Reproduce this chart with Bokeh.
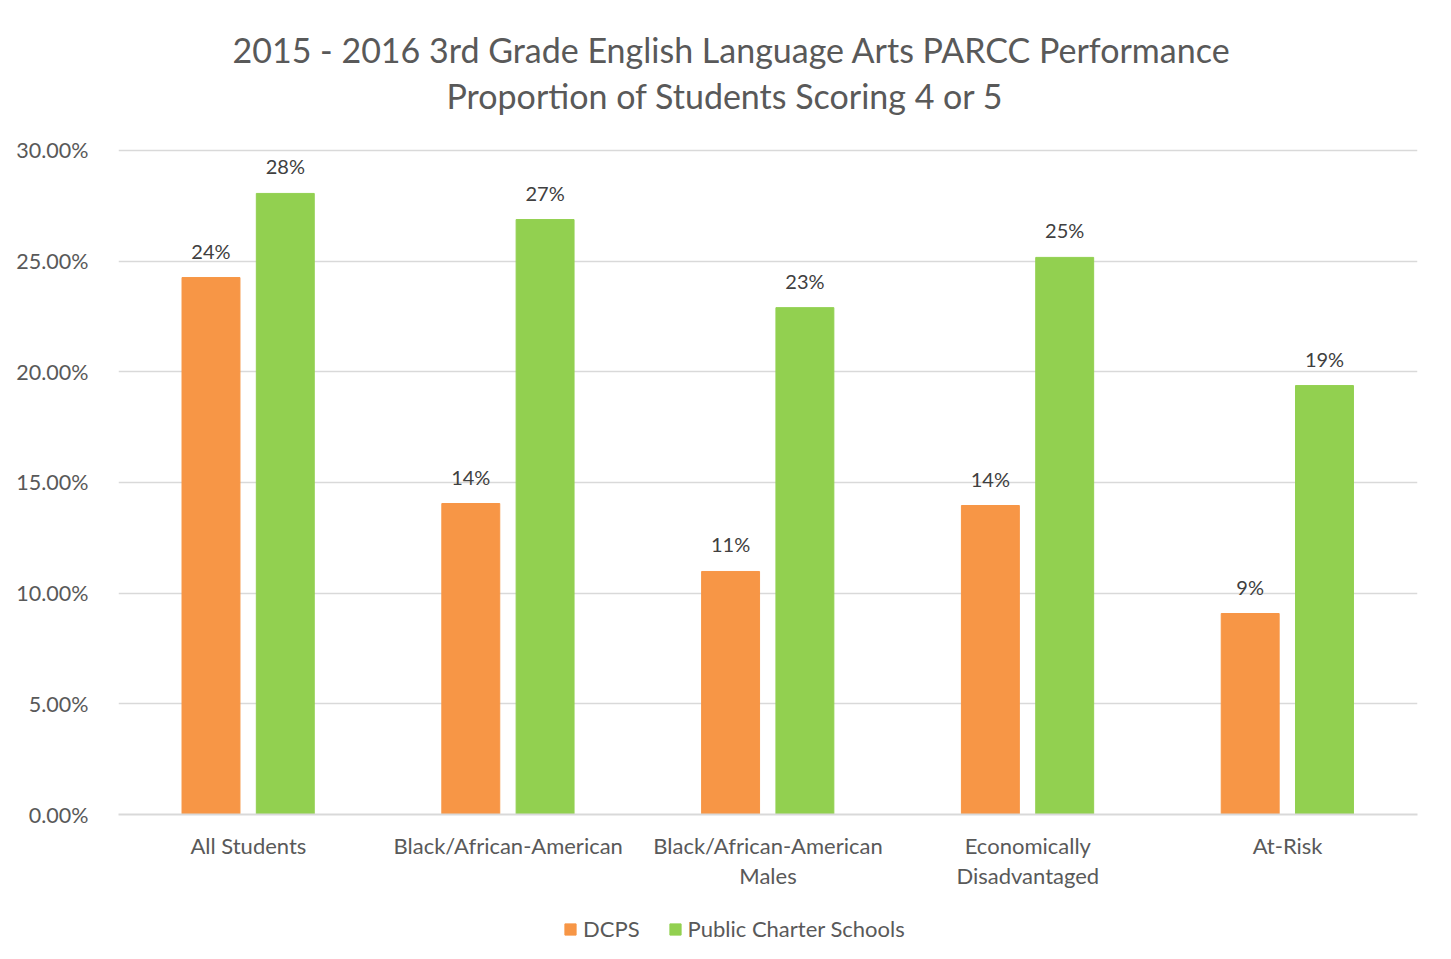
from bokeh.plotting import figure
from bokeh.layouts import column
from bokeh.models import (ColumnDataSource, FactorRange, NumeralTickFormatter, Title,
                          Legend, LegendItem, Range1d, FixedTicker)
from bokeh.transform import dodge
from bokeh.embed import file_html
from bokeh.resources import INLINE
from bokeh.core.properties import value

categories = ["All Students", "Black/African-American", "Black/African-American\nMales",
              "Economically\nDisadvantaged", "At-Risk"]
dcps = [0.2426, 0.1405, 0.1098, 0.1396, 0.0908]
pcs = [0.2806, 0.2688, 0.2290, 0.2517, 0.1938]
dcps_labels = ["24%", "14%", "11%", "14%", "9%"]
pcs_labels = ["28%", "27%", "23%", "25%", "19%"]
series_names = ["DCPS", "Public Charter Schools"]
y_ticks = [0, 0.05, 0.10, 0.15, 0.20, 0.25, 0.30]
title_lines = ["2015 - 2016 3rd Grade English Language Arts PARCC Performance",
               "Proportion of Students Scoring 4 or 5"]

FONT = "Lato"
ORANGE = "#f79646"
GREEN = "#92d050"
TXT = "#595959"

src = ColumnDataSource(dict(cat=categories, dcps=dcps, pcs=pcs,
                            dl=dcps_labels, pl=pcs_labels))

p = figure(x_range=FactorRange(*categories), y_range=Range1d(0, 0.3009),
           width=1451, height=900, output_backend="svg", toolbar_location=None,
           min_border_left=118, min_border_right=34, min_border_top=148, min_border_bottom=86)

r1 = p.vbar(x=dodge("cat", -0.144, range=p.x_range), top="dcps", width=0.223,
            source=src, color=ORANGE)
r2 = p.vbar(x=dodge("cat", 0.142, range=p.x_range), top="pcs", width=0.223,
            source=src, color=GREEN)

p.text(x=dodge("cat", -0.144, range=p.x_range), y="dcps", text="dl", source=src,
       text_align="center", text_baseline="bottom", y_offset=-15,
       text_font=value(FONT), text_font_size="20px", text_color="#404040")
p.text(x=dodge("cat", 0.142, range=p.x_range), y="pcs", text="pl", source=src,
       text_align="center", text_baseline="bottom", y_offset=-15,
       text_font=value(FONT), text_font_size="20px", text_color="#404040")

# two-line title, stacked above the plot
p.add_layout(Title(text=title_lines[1], align="left", text_font=FONT,
                   text_font_size="34px", text_color=TXT, text_font_style="normal",
                   standoff=66, offset=328), "above")
p.add_layout(Title(text=title_lines[0], align="left", text_font=FONT,
                   text_font_size="34px", text_color=TXT, text_font_style="normal",
                   standoff=-60, offset=114), "above")

p.xaxis.major_label_text_font = FONT
p.xaxis.major_label_text_font_size = "22px"
p.xaxis.major_label_text_color = TXT
p.xaxis.major_label_text_line_height = 1.14
p.xaxis.major_tick_line_color = None
p.xaxis.minor_tick_line_color = None
p.xaxis.axis_line_color = "#d9d9d9"
p.xaxis.axis_line_width = 2
p.xaxis.major_label_standoff = 11

p.yaxis.formatter = NumeralTickFormatter(format="0.00%")
p.yaxis.ticker = FixedTicker(ticks=y_ticks)
p.yaxis.major_label_text_font = FONT
p.yaxis.major_label_text_font_size = "21.5px"
p.yaxis.major_label_text_color = TXT
p.yaxis.axis_line_color = None
p.yaxis.major_tick_line_color = None
p.yaxis.minor_tick_line_color = None
p.yaxis.major_label_standoff = 24

p.xgrid.grid_line_color = None
p.ygrid.grid_line_color = "#d9d9d9"
p.ygrid.grid_line_width = 1.5
p.outline_line_color = None

# legend strip below the chart (its bars lie outside its view; only the legend shows)
p2 = figure(width=1451, height=59, output_backend="svg", toolbar_location=None,
            x_range=p.x_range, y_range=Range1d(1, 2), min_border=0)
p2.axis.visible = False
p2.grid.grid_line_color = None
p2.outline_line_color = None
k1 = p2.vbar(x=dodge("cat", -0.144, range=p.x_range), top="dcps", width=0.223,
             source=src, color=ORANGE)
k2 = p2.vbar(x=dodge("cat", 0.142, range=p.x_range), top="pcs", width=0.223,
             source=src, color=GREEN)
legend = Legend(items=[LegendItem(label=series_names[0], renderers=[k1]),
                       LegendItem(label=series_names[1], renderers=[k2])],
                orientation="horizontal", location=(445, 17),
                label_text_font=FONT, label_text_font_size="22px", label_text_color=TXT,
                glyph_width=14, glyph_height=14, spacing=28, border_line_color=None,
                background_fill_alpha=0, label_standoff=6, margin=0, padding=4)
p2.add_layout(legend, "center")

layout = column(p, p2, spacing=0)

open("out.html", "w").write(file_html(layout, INLINE))
